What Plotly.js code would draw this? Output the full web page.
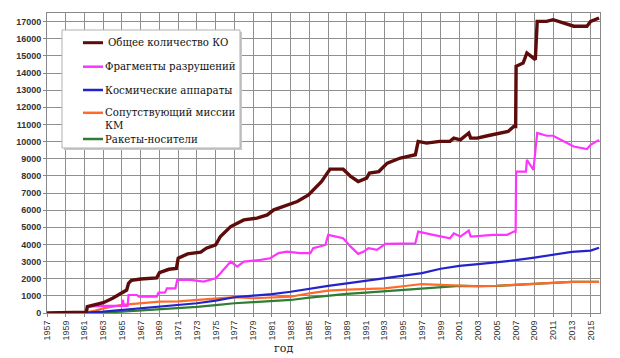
<!DOCTYPE html>
<html>
<head>
<meta charset="utf-8">
<script src="https://cdn.plot.ly/plotly-3.0.1.min.js"></script>
<style>html,body{margin:0;padding:0;background:#fff;}#chart{width:620px;height:358px;}</style>
</head>
<body>
<div id="chart"></div>
<script>
// ---- Data ----
const seriesNames = ["Общее количество КО", "Фрагменты разрушений", "Космические аппараты", "Сопутствующий миссии<br>КМ", "Ракеты-носители"];

const totalYears = [1957, 1961.2, 1961.3, 1962, 1963, 1964, 1965, 1965.5, 1965.7, 1966, 1967, 1968.7, 1969, 1970, 1970.8, 1971, 1972, 1973.4, 1974, 1975, 1975.5, 1976.6, 1977.3, 1978, 1979.4, 1980.5, 1981.2, 1982.6, 1983.7, 1984.9, 1985.6, 1986.3, 1986.9, 1987.2, 1988.6, 1989.4, 1990.2, 1991.1, 1991.4, 1992.4, 1993.3, 1994.7, 1996.3, 1996.6, 1997.5, 1998.9, 2000, 2000.4, 2001.1, 2002, 2002.2, 2002.9, 2004, 2005.4, 2006.2, 2006.8, 2007, 2007.05, 2007.8, 2008.2, 2009.1, 2009.3, 2010.3, 2011, 2012.1, 2013.2, 2014.6, 2015, 2015.9];
const totalValues = [0, 50, 370, 450, 600, 860, 1150, 1340, 1730, 1900, 1980, 2050, 2350, 2550, 2600, 3200, 3450, 3550, 3780, 3970, 4460, 5040, 5240, 5430, 5530, 5720, 6020, 6310, 6500, 6890, 7280, 7670, 8160, 8390, 8390, 7960, 7670, 7870, 8160, 8250, 8740, 9040, 9230, 10010, 9910, 10010, 10010, 10200, 10100, 10500, 10200, 10200, 10340, 10530, 10590, 10880, 10880, 14390, 14580, 15170, 14780, 17010, 17010, 17110, 16920, 16730, 16730, 17010, 17210];

const fragYears = [1957, 1961.2, 1961.3, 1963, 1965, 1965.1, 1965.2, 1965.6, 1965.7, 1966.6, 1966.8, 1968.7, 1968.9, 1969.6, 1969.8, 1970.7, 1970.9, 1972.3, 1973.7, 1975, 1975.5, 1976, 1976.6, 1977.3, 1978, 1979.8, 1980.8, 1981.7, 1982.6, 1984, 1985.1, 1985.4, 1986.7, 1987, 1987.9, 1988.6, 1989.4, 1990.2, 1990.8, 1991.3, 1992.2, 1993.1, 1996.3, 1996.6, 1998.2, 2000, 2000.4, 2001.1, 2002, 2002.2, 2004.6, 2006.1, 2006.8, 2007, 2007.05, 2008.1, 2008.2, 2008.9, 2009.3, 2010.3, 2011, 2012.1, 2013.2, 2014.6, 2015, 2015.9];
const fragValues = [0, 0, 370, 410, 410, 760, 420, 420, 1050, 1050, 950, 950, 1190, 1200, 1440, 1440, 1930, 1930, 1830, 2030, 2320, 2610, 3000, 2700, 3000, 3100, 3190, 3490, 3580, 3490, 3490, 3780, 3970, 4560, 4460, 4360, 3870, 3450, 3580, 3780, 3680, 4030, 4070, 4750, 4560, 4360, 4650, 4460, 4810, 4460, 4560, 4560, 4750, 4750, 8250, 8250, 8940, 8350, 10500, 10340, 10340, 10010, 9710, 9560, 9810, 10100];

const scYears = [1957, 1959, 1961, 1963, 1965, 1967, 1969, 1971, 1973, 1975, 1977, 1979, 1981, 1983, 1985, 1987, 1989, 1991, 1993, 1995, 1997, 1999, 2001, 2003, 2005, 2007, 2009, 2011, 2013, 2015, 2015.9];
const scValues = [0, 5, 20, 80, 180, 280, 390, 480, 570, 720, 920, 1010, 1100, 1240, 1420, 1580, 1730, 1880, 2030, 2180, 2330, 2580, 2750, 2850, 2960, 3080, 3230, 3390, 3570, 3640, 3810];

const missionYears = [1957, 1961, 1962, 1963, 1965, 1967, 1969, 1971, 1973, 1975, 1977, 1979, 1981, 1983, 1985, 1987, 1989, 1991, 1993, 1995, 1997, 1999, 2001, 2003, 2005, 2007, 2009, 2011, 2013, 2015.9];
const missionValues = [0, 10, 120, 270, 470, 570, 660, 680, 760, 840, 930, 860, 890, 950, 1150, 1300, 1360, 1400, 1440, 1560, 1690, 1640, 1580, 1560, 1590, 1650, 1730, 1790, 1810, 1820];

const rocketYears = [1957, 1961, 1963, 1965, 1967, 1969, 1971, 1973, 1975, 1977, 1979, 1981, 1983, 1985, 1987, 1989, 1991, 1993, 1995, 1997, 1999, 2001, 2003, 2005, 2007, 2009, 2011, 2013, 2015.9];
const rocketValues = [0, 5, 30, 80, 140, 210, 290, 360, 460, 570, 630, 680, 760, 900, 1020, 1110, 1190, 1270, 1370, 1440, 1520, 1580, 1570, 1580, 1640, 1710, 1770, 1810, 1810];

const xTickYears = [];
for (let y = 1957; y <= 2015; y += 2) xTickYears.push(y);
const xTickLabels = xTickYears.map(String);
const yTickValues = [0,1000,2000,3000,4000,5000,6000,7000,8000,9000,10000,11000,12000,13000,14000,15000,16000,17000];
const yTickLabels = yTickValues.map(String);

const colors = ["#5e0b0b", "#ff33ff", "#2323cc", "#ff6a2a", "#2e7d32"];
const widths = [3.4, 2.2, 2.2, 2.2, 2.2];

// ---- Traces ----
const traces = [
  {x: rocketYears, y: rocketValues, name: seriesNames[4], line: {color: colors[4], width: widths[4]}},
  {x: missionYears, y: missionValues, name: seriesNames[3], line: {color: colors[3], width: widths[3]}},
  {x: scYears, y: scValues, name: seriesNames[2], line: {color: colors[2], width: widths[2]}},
  {x: fragYears, y: fragValues, name: seriesNames[1], line: {color: colors[1], width: widths[1]}},
  {x: totalYears, y: totalValues, name: seriesNames[0], line: {color: colors[0], width: widths[0]}}
].map(t => Object.assign({type: 'scatter', mode: 'lines', showlegend: false, hoverinfo: 'skip'}, t));

// ---- Manual legend (layout helpers) ----
const L = 47, R = 600, T = 13, B = 313;
const px = x => (x - L) / (R - L);
const py = y => (B - y) / (B - T);
const legendRows = [42.7, 66.7, 90, 112.8, 139];
const legendTextX = [107, 104, 104, 104, 104];
const serif = 'DejaVu Serif';

const shapes = [
  {type: 'rect', xref: 'paper', yref: 'paper', x0: px(64), x1: px(242), y0: py(150), y1: py(32), fillcolor: '#c8c8c8', line: {width: 0}, layer: 'above'},
  {type: 'rect', xref: 'paper', yref: 'paper', x0: px(62), x1: px(240), y0: py(148), y1: py(30), fillcolor: '#ffffff', line: {color: '#b0b0b0', width: 1}, layer: 'above'}
];
const annotations = [];
for (let i = 0; i < seriesNames.length; i++) {
  shapes.push({type: 'line', xref: 'paper', yref: 'paper', x0: px(83), x1: px(103), y0: py(legendRows[i]), y1: py(legendRows[i]), line: {color: colors[i], width: i === 0 ? 3 : 2.5}, layer: 'above'});
  const parts = seriesNames[i].split('<br>');
  parts.forEach((p, j) => {
    annotations.push({xref: 'paper', yref: 'paper', x: px(legendTextX[i]), y: py(legendRows[i] + j * 12.4), xanchor: 'left', yanchor: 'middle', align: 'left', showarrow: false, borderpad: 0, text: p, font: {family: serif, size: 10.2, color: '#111'}});
  });
}
annotations.push({xref: 'paper', yref: 'paper', x: px(283), y: py(348), xanchor: 'center', yanchor: 'middle', showarrow: false, text: 'год', font: {family: serif, size: 11, color: '#222'}});

const layout = {
  width: 620, height: 358,
  margin: {l: L, r: 620 - R, t: T, b: 358 - B},
  paper_bgcolor: '#ffffff', plot_bgcolor: '#ffffff',
  showlegend: false,
  xaxis: {
    range: [1957, 2016], tickmode: 'array', tickvals: xTickYears, ticktext: xTickLabels,
    tickangle: -90, tickfont: {family: 'Liberation Sans', size: 9, color: '#333'},
    showgrid: true, gridcolor: '#8f8f8f', gridwidth: 1,
    showline: true, linecolor: '#888', mirror: true, zeroline: false,
    ticks: 'outside', ticklen: 3, tickcolor: '#888'
  },
  yaxis: {
    range: [0, 17500], tickmode: 'array', tickvals: yTickValues, ticktext: yTickLabels,
    tickfont: {family: 'Liberation Sans', size: 9, color: '#333', weight: 'bold'},
    showgrid: true, gridcolor: '#8f8f8f', gridwidth: 1,
    showline: true, linecolor: '#888', mirror: true, zeroline: false,
    ticks: 'outside', ticklen: 3, tickcolor: '#888'
  },
  shapes: shapes,
  annotations: annotations
};

Plotly.newPlot('chart', traces, layout, {staticPlot: true, displayModeBar: false});
</script>
</body>
</html>
